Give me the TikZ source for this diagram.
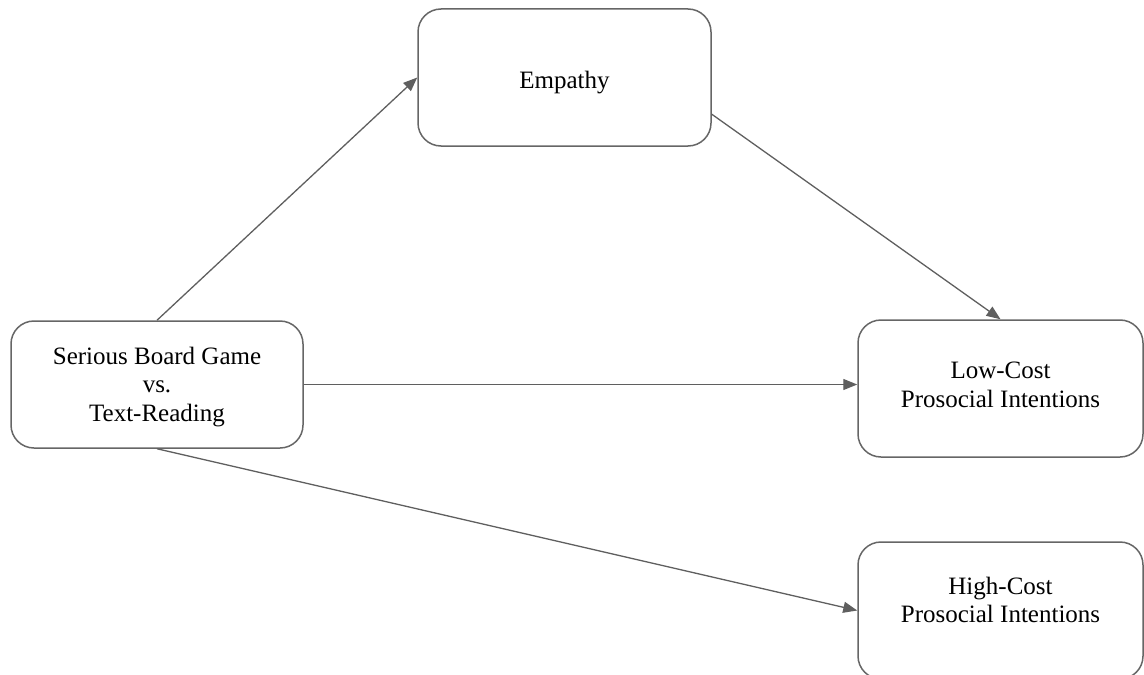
\documentclass[tikz,border=0pt]{standalone}
\usepackage{fontspec}
\setmainfont{Liberation Serif}
\usetikzlibrary{arrows.meta}
\definecolor{cline}{RGB}{95,95,95}
\definecolor{cbox}{RGB}{102,102,102}
\tikzset{medsec/.style={x=0.5pt,y=-0.5pt,font=\fontsize{12.5}{14.25}\selectfont}}
\tikzset{varbox/.style={draw=cbox,line width=0.75pt,rounded corners=11.5pt,align=center,inner sep=0pt,
           minimum width=142.5pt,minimum height=68.5pt},
         link/.style={cline,line width=0.65pt,-{Triangle[length=7pt,width=5.5pt]}}}

\begin{document}
\begin{tikzpicture}[medsec]
    \useasboundingbox (0,0) rectangle (1144,674);
    \clip (0,0) rectangle (1144,674);
    \node[varbox,minimum width=146.5pt,text height=13.3pt] (emp) at (564.5,77.5) {Empathy};
    \node[varbox,minimum width=146pt,minimum height=63.5pt,text height=39.6pt] (cond) at (157,384.5)
        {Serious Board Game\\vs.\\Text-Reading};
    \node[varbox,text depth=4pt] (low) at (1000.5,388.5) {Low-Cost\\Prosocial Intentions};
    \node[varbox,text depth=10.7pt] (high) at (1000.5,610.5) {High-Cost\\Prosocial Intentions}; % cut by page
    \draw[link] (cond.north) -- (emp.west);
    \draw[link] (emp.-14) -- (low.north);
    \draw[link] (cond.east) -- (cond.east -| low.west);
    \draw[link] (cond.south) -- (high.west);
\end{tikzpicture}
\end{document}
